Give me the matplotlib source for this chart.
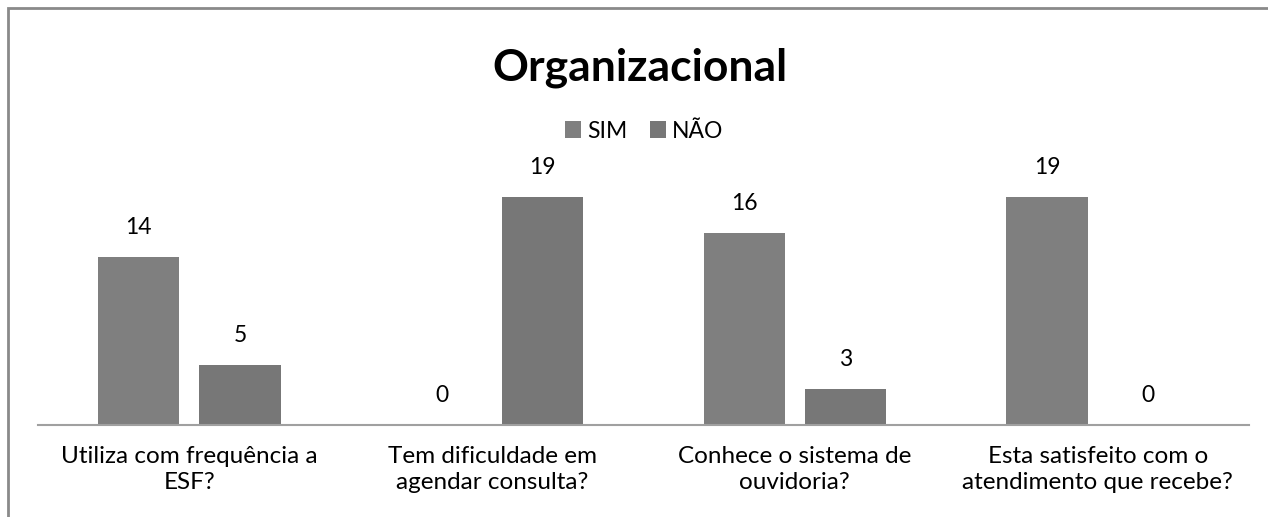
import matplotlib.pyplot as plt
import matplotlib.patches as mpatches
import numpy as np

plt.rcParams['font.family'] = ['Lato', 'DejaVu Sans']

categories = [
    "Utiliza com frequência a\nESF?",
    "Tem dificuldade em\nagendar consulta?",
    "Conhece o sistema de\nouvidoria?",
    "Esta satisfeito com o\natendimento que recebe?",
]
sim = [14, 0, 16, 19]
nao = [5, 19, 3, 0]
series_names = ["SIM", "NÃO"]

fig = plt.figure(figsize=(12.68, 5.17), dpi=100)
ax = fig.add_axes([38 / 1268, 1 - 425 / 517, 1211 / 1268, 240 / 517])

x = np.arange(len(categories))
w = 0.268
off = 0.167
colors = ["#7f7f7f", "#777777"]

b1 = ax.bar(x - off, sim, w, color=colors[0], label=series_names[0])
b2 = ax.bar(x + off, nao, w, color=colors[1], label=series_names[1])

for bars in (b1, b2):
    for rect in bars:
        h = rect.get_height()
        ax.annotate(f"{h:g}", (rect.get_x() + rect.get_width() / 2, h),
                    xytext=(0, 21), textcoords="offset points",
                    ha="center", va="center", fontsize=16.5, color="#000000",
                    annotation_clip=False)

ax.set_xlim(-0.5, len(categories) - 0.5)
ax.set_ylim(0, 20)
ax.set_xticks(x)
ax.set_xticklabels(categories, fontsize=17.5, linespacing=1.3)
ax.tick_params(axis="x", length=0, pad=15)
ax.set_yticks([])
for side in ("left", "right", "top"):
    ax.spines[side].set_visible(False)
ax.spines["bottom"].set_color("#a0a0a0")
ax.spines["bottom"].set_linewidth(1.5)

fig.text(0.505, 1 - 68 / 517, "Organizacional", ha="center", va="center",
         fontsize=32, fontweight="bold")

fig.legend(handles=[b1, b2], loc="center", bbox_to_anchor=(0.508, 1 - 131 / 517),
           ncol=2, frameon=False, fontsize=16.5, handlelength=0.7,
           handleheight=0.7, handletextpad=0.25, columnspacing=1.0)

# outer chart frame (cropped on right and bottom)
frame = mpatches.Rectangle((8 / 1268, -0.1), 1.2, 1 - 8 / 517 + 0.1,
                           transform=fig.transFigure, fill=False,
                           edgecolor="#8a8a8a", linewidth=2, clip_on=False)
fig.patches.append(frame)

fig.savefig("out.png", dpi=100)
